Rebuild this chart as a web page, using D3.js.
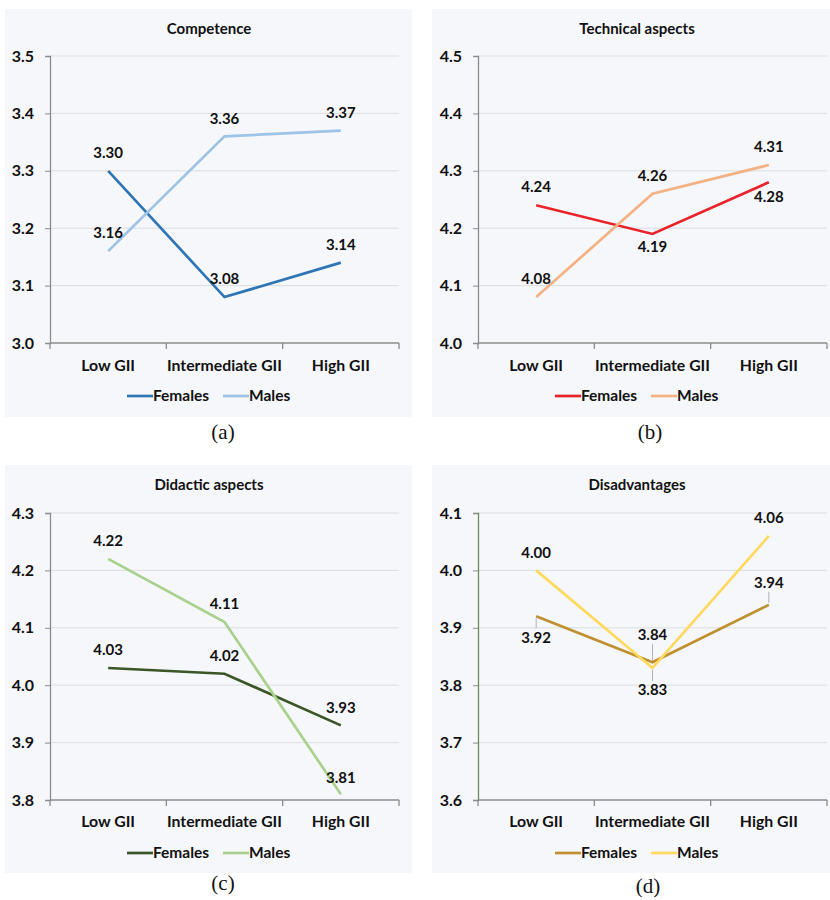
<!DOCTYPE html>
<html>
<head>
<meta charset="utf-8">
<script src="https://cdn.jsdelivr.net/npm/d3@7"></script>
<style>
  html, body { margin: 0; padding: 0; background: #ffffff; }
  svg { display: block; }
  .lbl { font-family: Lato, "Open Sans", sans-serif; font-weight: 700; fill: #111; }
</style>
</head>
<body>
<svg id="chart" width="830" height="900"></svg>
<script>
// Mean scores by country group (Gender Inequality Index) for each dimension
const categories = ["Low GII", "Intermediate GII", "High GII"];
const seriesNames = ["Females", "Males"];

const competenceFemales = [3.30, 3.08, 3.14];
const competenceMales   = [3.16, 3.36, 3.37];

const technicalFemales  = [4.24, 4.19, 4.28];
const technicalMales    = [4.08, 4.26, 4.31];

const didacticFemales   = [4.03, 4.02, 3.93];
const didacticMales     = [4.22, 4.11, 3.81];

const disadvFemales     = [3.92, 3.84, 3.94];
const disadvMales       = [4.00, 3.83, 4.06];

const competenceTicks = [3.0, 3.1, 3.2, 3.3, 3.4, 3.5];
const technicalTicks  = [4.0, 4.1, 4.2, 4.3, 4.4, 4.5];
const didacticTicks   = [3.8, 3.9, 4.0, 4.1, 4.2, 4.3];
const disadvTicks     = [3.6, 3.7, 3.8, 3.9, 4.0, 4.1];

// Layout and styling of the four panels
const panels = [
  {
    title: "Competence", caption: "(a)",
    series: [competenceFemales, competenceMales], ticks: competenceTicks,
    colors: ["#2e75b6", "#9dc3e6"],
    bg: [5, 9, 407, 408], plot: [50, 399, 56, 343], cx: 209,
    titleY: 29, xLabelY: 365, legendY: 396, captionX: 223, captionY: 432,
    labelDy: [[-18, -18, -18], [-18, -18, -18]],
    yAxisColor: "#8c8c8c"
  },
  {
    title: "Technical aspects", caption: "(b)",
    series: [technicalFemales, technicalMales], ticks: technicalTicks,
    colors: ["#e8232a", "#f4b183"],
    bg: [432, 9, 398, 408], plot: [478, 827, 56, 343], cx: 637,
    titleY: 29, xLabelY: 365, legendY: 396, captionX: 650, captionY: 432,
    labelDy: [[-18, 13, 14], [-18, -18, -18]],
    yAxisColor: "#8c8c8c"
  },
  {
    title: "Didactic aspects", caption: "(c)",
    series: [didacticFemales, didacticMales], ticks: didacticTicks,
    colors: ["#3a5526", "#a9d18e"],
    bg: [5, 465, 407, 408], plot: [50, 399, 513, 800], cx: 209,
    titleY: 485, xLabelY: 821, legendY: 853, captionX: 223, captionY: 883,
    labelDy: [[-18, -18, -18], [-18, -18, -17]],
    yAxisColor: "#8c8c8c"
  },
  {
    title: "Disadvantages", caption: "(d)",
    series: [disadvFemales, disadvMales], ticks: disadvTicks,
    colors: ["#bf9030", "#ffd85e"],
    bg: [432, 465, 398, 408], plot: [478, 827, 513, 800], cx: 637,
    titleY: 485, xLabelY: 821, legendY: 853, captionX: 648, captionY: 886,
    labelDy: [[21, -27, -22], [-18, 22, -18]],
    yAxisColor: "#6f8a5a"
  }
];

const svg = d3.select("#chart");

panels.forEach(p => {
  const g = svg.append("g");
  const [left, right, top, bottom] = p.plot;

  g.append("rect")
    .attr("x", p.bg[0]).attr("y", p.bg[1])
    .attr("width", p.bg[2]).attr("height", p.bg[3])
    .attr("fill", "#f6f7fa");

  const x = d3.scaleBand().domain(categories).range([left, right]).padding(0);
  const y = d3.scaleLinear().domain(d3.extent(p.ticks)).range([bottom, top]);

  // horizontal gridlines
  g.append("g").selectAll("line")
    .data(p.ticks.slice(1))
    .join("line")
    .attr("x1", left).attr("x2", right)
    .attr("y1", d => y(d)).attr("y2", d => y(d))
    .attr("stroke", "#dcdde0").attr("stroke-width", 1);

  // y axis
  const yAxis = d3.axisLeft(y).tickValues(p.ticks).tickFormat(d3.format(".1f")).tickSize(5).tickPadding(11);
  const ya = g.append("g").attr("transform", `translate(${left},0)`).call(yAxis);
  ya.select(".domain").attr("stroke", p.yAxisColor).attr("stroke-width", 1.3);
  ya.selectAll(".tick line").attr("stroke", "#8c8c8c");
  ya.selectAll(".tick text")
    .attr("class", "lbl").style("font-size", "16px");

  // x axis: baseline with ticks at category boundaries
  const xa = g.append("g").attr("transform", `translate(0,${bottom})`);
  xa.append("line").attr("x1", left).attr("x2", right)
    .attr("stroke", "#8c8c8c").attr("stroke-width", 1.3);
  const bounds = categories.map(c => x(c)).concat([x(categories[categories.length - 1]) + x.bandwidth()]);
  xa.selectAll("line.bt").data(bounds).join("line").attr("class", "bt")
    .attr("x1", d => d).attr("x2", d => d).attr("y1", 0).attr("y2", 6)
    .attr("stroke", "#8c8c8c").attr("stroke-width", 1.3);
  g.append("g").selectAll("text").data(categories).join("text")
    .attr("class", "lbl")
    .attr("x", d => x(d) + x.bandwidth() / 2)
    .attr("y", p.xLabelY).attr("dy", "0.35em")
    .attr("text-anchor", "middle").style("font-size", "15.8px")
    .text(d => d);

  // title
  g.append("text").attr("class", "lbl")
    .attr("x", p.cx).attr("y", p.titleY).attr("dy", "0.35em")
    .attr("text-anchor", "middle").style("font-size", "15px")
    .text(p.title);

  const line = d3.line()
    .x((d, i) => x(categories[i]) + x.bandwidth() / 2)
    .y(d => y(d));

  // males drawn last so they sit on top
  p.series.forEach((vals, si) => {
    g.append("path").datum(vals)
      .attr("fill", "none").attr("stroke", p.colors[si])
      .attr("stroke-width", 2.7).attr("stroke-linejoin", "miter")
      .attr("d", line);
  });

  // value labels (with leader lines where the label sits further from its point)
  p.series.forEach((vals, si) => {
    vals.forEach((v, i) => {
      const px = x(categories[i]) + x.bandwidth() / 2;
      const py = y(v);
      const dy = p.labelDy[si][i];
      if (Math.abs(dy) > 19) {
        const sign = Math.sign(dy);
        g.append("line")
          .attr("x1", px).attr("x2", px)
          .attr("y1", py + sign * 2).attr("y2", py + dy - sign * 9)
          .attr("stroke", "#b0b0b0").attr("stroke-width", 1);
      }
      g.append("text").attr("class", "lbl")
        .attr("x", px).attr("y", py + dy).attr("dy", "0.35em")
        .attr("text-anchor", "middle").style("font-size", "15px")
        .text(d3.format(".2f")(v));
    });
  });

  // legend
  const legendItems = [
    { name: seriesNames[0], x0: p.cx - 82 },
    { name: seriesNames[1], x0: p.cx + 14 }
  ];
  legendItems.forEach((it, si) => {
    g.append("line")
      .attr("x1", it.x0).attr("x2", it.x0 + 26)
      .attr("y1", p.legendY).attr("y2", p.legendY)
      .attr("stroke", p.colors[si]).attr("stroke-width", 2.7);
    g.append("text").attr("class", "lbl")
      .attr("x", it.x0 + 26).attr("y", p.legendY).attr("dy", "0.35em")
      .style("font-size", "15.5px")
      .text(it.name);
  });

  // panel caption
  g.append("text")
    .attr("x", p.captionX).attr("y", p.captionY).attr("dy", "0.35em")
    .attr("text-anchor", "middle")
    .style("font-family", "'Liberation Serif', 'DejaVu Serif', serif")
    .style("font-size", "21px").style("fill", "#111")
    .text(p.caption);
});
</script>
</body>
</html>
